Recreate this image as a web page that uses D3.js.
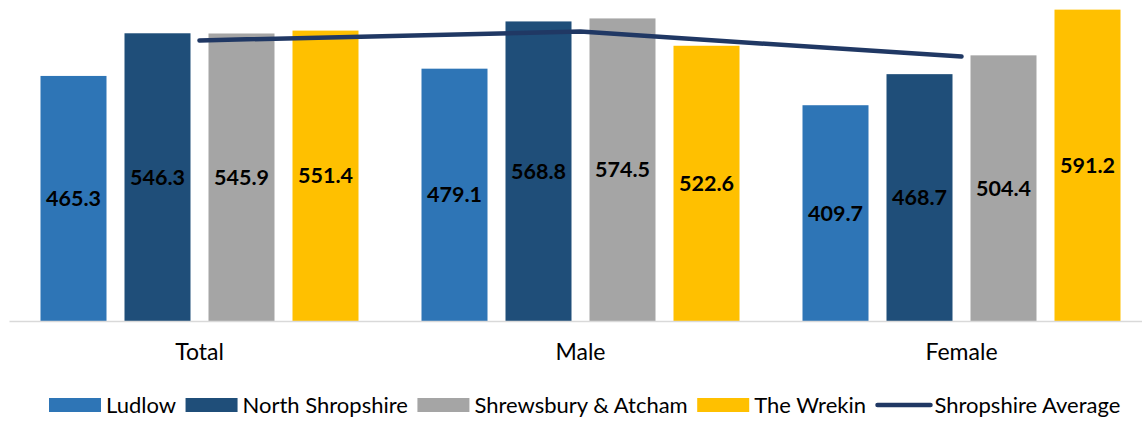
<!DOCTYPE html>
<html>
<head>
<meta charset="utf-8">
<script src="https://cdn.jsdelivr.net/npm/d3@7"></script>
<style>
  body { margin: 0; background: #fff; }
  svg { display: block; font-family: Lato, "Open Sans", sans-serif; }
</style>
</head>
<body>
<div id="chart"></div>
<script>
"use strict";

// === DATA ===
const categories = ["Total", "Male", "Female"];
const areas = ["Ludlow", "North Shropshire", "Shrewsbury & Atcham", "The Wrekin"];
const ludlow = [465.3, 479.1, 409.7];
const northShropshire = [546.3, 568.8, 468.7];
const shrewsbury = [545.9, 574.5, 504.4];
const wrekin = [551.4, 522.6, 591.2];
const shropshireAverage = [532.8, 549.5, 502.0];

const seriesValues = [ludlow, northShropshire, shrewsbury, wrekin];
const colors = ["#2E75B6", "#1F4E79", "#A5A5A5", "#FFC000"];
const lineColor = "#203864";

// === SVG SETUP ===
const width = 1142, height = 421;
const svg = d3.select("#chart").append("svg")
  .attr("width", width)
  .attr("height", height);

// === SCALES ===
const x0 = d3.scaleBand()
  .domain(categories)
  .range([9, 1152]);

const x1 = d3.scaleBand()
  .domain(areas)
  .range([31.5, x0.bandwidth() - 31.5])
  .paddingInner(18 / 84);

const y = d3.scaleLinear()
  .domain([0, 600])
  .range([321, 5]);

// === BARS ===
const groups = svg.selectAll("g.group")
  .data(categories)
  .enter()
  .append("g")
  .attr("class", "group")
  .attr("transform", d => `translate(${x0(d)},0)`);

groups.selectAll("rect")
  .data((c, ci) => areas.map((a, ai) => ({ area: a, value: seriesValues[ai][ci], i: ai })))
  .enter()
  .append("rect")
  .attr("x", d => x1(d.area))
  .attr("y", d => y(d.value))
  .attr("width", x1.bandwidth())
  .attr("height", d => y(0) - y(d.value))
  .attr("fill", d => colors[d.i]);

groups.selectAll("text.val")
  .data((c, ci) => areas.map((a, ai) => ({ area: a, value: seriesValues[ai][ci] })))
  .enter()
  .append("text")
  .attr("class", "val")
  .attr("x", d => x1(d.area) + x1.bandwidth() / 2)
  .attr("y", d => (y(d.value) + y(0)) / 2)
  .attr("dy", "0.35em")
  .attr("text-anchor", "middle")
  .attr("font-size", "21.5px")
  .attr("font-weight", "bold")
  .attr("fill", "#000")
  .text(d => d.value.toFixed(1));

// === AXIS ===
const xAxis = svg.append("g")
  .attr("transform", `translate(0,${y(0)})`)
  .call(d3.axisBottom(x0).tickSize(0).tickPadding(23));
xAxis.select(".domain").attr("stroke", "#d9d9d9").attr("stroke-width", 1.5);
xAxis.selectAll("text")
  .attr("font-size", "23px")
  .attr("font-family", "Lato, sans-serif")
  .attr("fill", "#000");

// === AVERAGE LINE ===
const line = d3.line()
  .x((d, i) => x0(categories[i]) + x0.bandwidth() / 2)
  .y(d => y(d));

svg.append("path")
  .datum(shropshireAverage)
  .attr("d", line)
  .attr("fill", "none")
  .attr("stroke", lineColor)
  .attr("stroke-width", 4.5)
  .attr("stroke-linecap", "round")
  .attr("stroke-linejoin", "round");

// === LEGEND ===
const legendItems = areas.map((a, i) => ({ name: a, color: colors[i], type: "rect" }))
  .concat([{ name: "Shropshire Average", color: lineColor, type: "line" }]);

const legend = svg.append("g").attr("transform", "translate(0,405)");
let lx = 49;
legendItems.forEach(item => {
  const g = legend.append("g").attr("transform", `translate(${lx},0)`);
  if (item.type === "rect") {
    g.append("rect")
      .attr("x", 0).attr("y", -7)
      .attr("width", 52).attr("height", 14)
      .attr("fill", item.color);
  } else {
    g.append("line")
      .attr("x1", 2).attr("x2", 55)
      .attr("y1", 0).attr("y2", 0)
      .attr("stroke", item.color)
      .attr("stroke-width", 4.5)
      .attr("stroke-linecap", "round");
  }
  const sw = item.type === "rect" ? 57 : 59;
  const t = g.append("text")
    .attr("x", sw)
    .attr("dy", "0.35em")
    .attr("font-size", "22px")
    .attr("fill", "#000")
    .text(item.name);
  lx += sw + t.node().getComputedTextLength() + 9.5;
});
</script>
</body>
</html>
